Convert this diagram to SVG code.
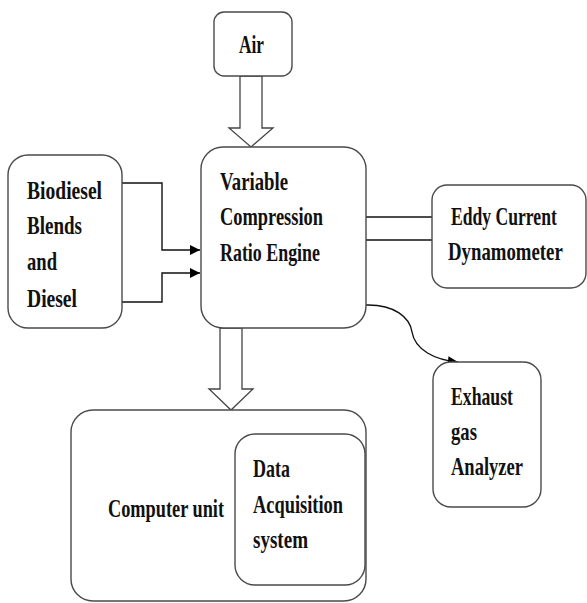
<svg xmlns="http://www.w3.org/2000/svg" width="587" height="603" viewBox="0 0 587 603">
<style>
.box{fill:#fff;stroke:#4a4a4a;stroke-width:1.4}
.t{font-family:"Liberation Serif","Times New Roman",serif;font-weight:bold;font-size:25px;fill:#111}
.ln{fill:none;stroke:#111;stroke-width:1.4}
.blk{fill:#fff;stroke:#444;stroke-width:1.3}
</style>
<defs>
<marker id="ah" viewBox="0 0 10 10" refX="10" refY="5" markerWidth="10" markerHeight="10" markerUnits="userSpaceOnUse" orient="auto">
<path d="M0,0 L10,5 L0,10 Z" fill="#000"/>
</marker>
</defs>
<rect width="587" height="603" fill="#fff"/>
<g id="connectors">
<polyline class="ln" points="122,183 162,183 162,250 200,250" marker-end="url(#ah)"/>
<polyline class="ln" points="122,302 162,302 162,273 200,273" marker-end="url(#ah)"/>
<line class="ln" x1="366" y1="217" x2="432" y2="217"/>
<line class="ln" x1="366" y1="240" x2="432" y2="240"/>
<path class="ln" d="M365,305 C395,304 410,318 412,332 C415,350 435,360 458,362" marker-end="url(#ah)"/>
<polygon class="blk" points="240,76 262,76 262,128 273,128 251,147 229,128 240,128"/>
<polygon class="blk" points="220,328 242,328 242,389 253,389 231,410 209,389 220,389"/>
</g>
<g id="air">
<rect class="box" x="214" y="12" width="78" height="64" rx="10"/>
<text class="t" x="239" y="53" textLength="25" lengthAdjust="spacingAndGlyphs">Air</text>
</g>
<g id="biodiesel">
<rect class="box" x="8" y="155" width="114" height="173" rx="20"/>
<text class="t" x="27" y="199" textLength="75" lengthAdjust="spacingAndGlyphs">Biodiesel</text>
<text class="t" x="27" y="234" textLength="55" lengthAdjust="spacingAndGlyphs">Blends</text>
<text class="t" x="27" y="270" textLength="30" lengthAdjust="spacingAndGlyphs">and</text>
<text class="t" x="27" y="307" textLength="50" lengthAdjust="spacingAndGlyphs">Diesel</text>
</g>
<g id="engine">
<rect class="box" x="201" y="147" width="165" height="181" rx="22"/>
<text class="t" x="220" y="190" textLength="68" lengthAdjust="spacingAndGlyphs">Variable</text>
<text class="t" x="220" y="225" textLength="103" lengthAdjust="spacingAndGlyphs">Compression</text>
<text class="t" x="220" y="261" textLength="100" lengthAdjust="spacingAndGlyphs">Ratio Engine</text>
</g>
<g id="eddy">
<rect class="box" x="432" y="185" width="154" height="103" rx="15"/>
<text class="t" transform="translate(451,225) scale(0.72,1)" textLength="147" lengthAdjust="spacingAndGlyphs">Eddy Current</text>
<text class="t" transform="translate(448,260) scale(0.75,1)" textLength="153" lengthAdjust="spacingAndGlyphs">Dynamometer</text>
</g>
<g id="exhaust">
<rect class="box" x="433" y="362" width="108" height="145" rx="18"/>
<text class="t" x="451" y="405" textLength="62" lengthAdjust="spacingAndGlyphs">Exhaust</text>
<text class="t" x="451" y="440" textLength="26" lengthAdjust="spacingAndGlyphs">gas</text>
<text class="t" x="451" y="475" textLength="72" lengthAdjust="spacingAndGlyphs">Analyzer</text>
</g>
<g id="computer">
<rect class="box" x="71" y="410" width="295" height="191" rx="22"/>
<text class="t" x="108" y="517" textLength="116" lengthAdjust="spacingAndGlyphs">Computer unit</text>
</g>
<g id="daq">
<rect class="box" x="235" y="434" width="130" height="151" rx="20"/>
<text class="t" x="253" y="477" textLength="37" lengthAdjust="spacingAndGlyphs">Data</text>
<text class="t" x="253" y="513" textLength="90" lengthAdjust="spacingAndGlyphs">Acquisition</text>
<text class="t" x="253" y="548" textLength="55" lengthAdjust="spacingAndGlyphs">system</text>
</g>
</svg>
